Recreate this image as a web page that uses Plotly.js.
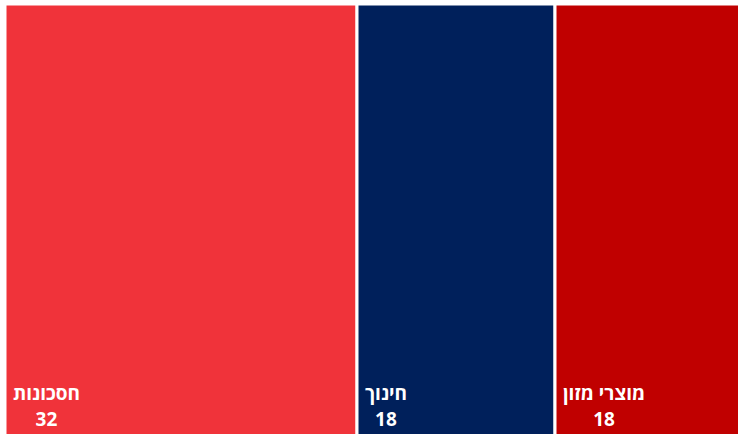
<!DOCTYPE html>
<html>
<head>
<meta charset="utf-8">
<script src="https://cdn.plot.ly/plotly-3.0.1.min.js"></script>
<style>
html,body{margin:0;padding:0;overflow:hidden;background:#fff;width:738px;height:434px;}
#chart{width:753px;height:461px;}
</style>
</head>
<body>
<div id="chart"></div>
<script>
const categories = ["חסכונות", "חינוך", "מוצרי מזון"];
const values = [32, 18, 18];
const colors = ["#F0333A", "#00205B", "#C00000"];

const trace = {
  type: "treemap",
  labels: categories,
  parents: categories.map(() => ""),
  values: values,
  sort: false,
  branchvalues: "total",
  marker: {colors: colors, line: {color: "#ffffff", width: 3}, pad: {t: 0, l: 0, r: 0, b: 0}},
  tiling: {packing: "dice", pad: 0},
  pathbar: {visible: false},
  textposition: "bottom left",
  texttemplate: "<span style='font-size:19px'>&nbsp;%{label}</span><br><span style='font-size:19px'>&nbsp;%{value}</span><br><span style='font-size:19px'>&nbsp;</span>",
  textfont: {family: "Open Sans, sans-serif", size: 20, color: "#ffffff", weight: "bold"},
  hoverinfo: "label+value"
};

const layout = {
  width: 753,
  height: 461,
  margin: {l: 5, r: 0, t: 4, b: 0},
  paper_bgcolor: "#ffffff",
  showlegend: false
};

const gd = document.getElementById("chart");
Plotly.newPlot(gd, [trace], layout, {displayModeBar: false, staticPlot: true}).then(() => {
  gd.querySelectorAll("g.slicetext text").forEach(t => {
    const lines = t.querySelectorAll("tspan.line");
    if (!lines.length) return;
    const bb = t.getBBox();
    const cx = bb.x + bb.width / 2;
    t.setAttribute("text-anchor", "middle");
    t.style.textAnchor = "middle";
    lines.forEach(l => l.setAttribute("x", cx));
  });
});
</script>
</body>
</html>
